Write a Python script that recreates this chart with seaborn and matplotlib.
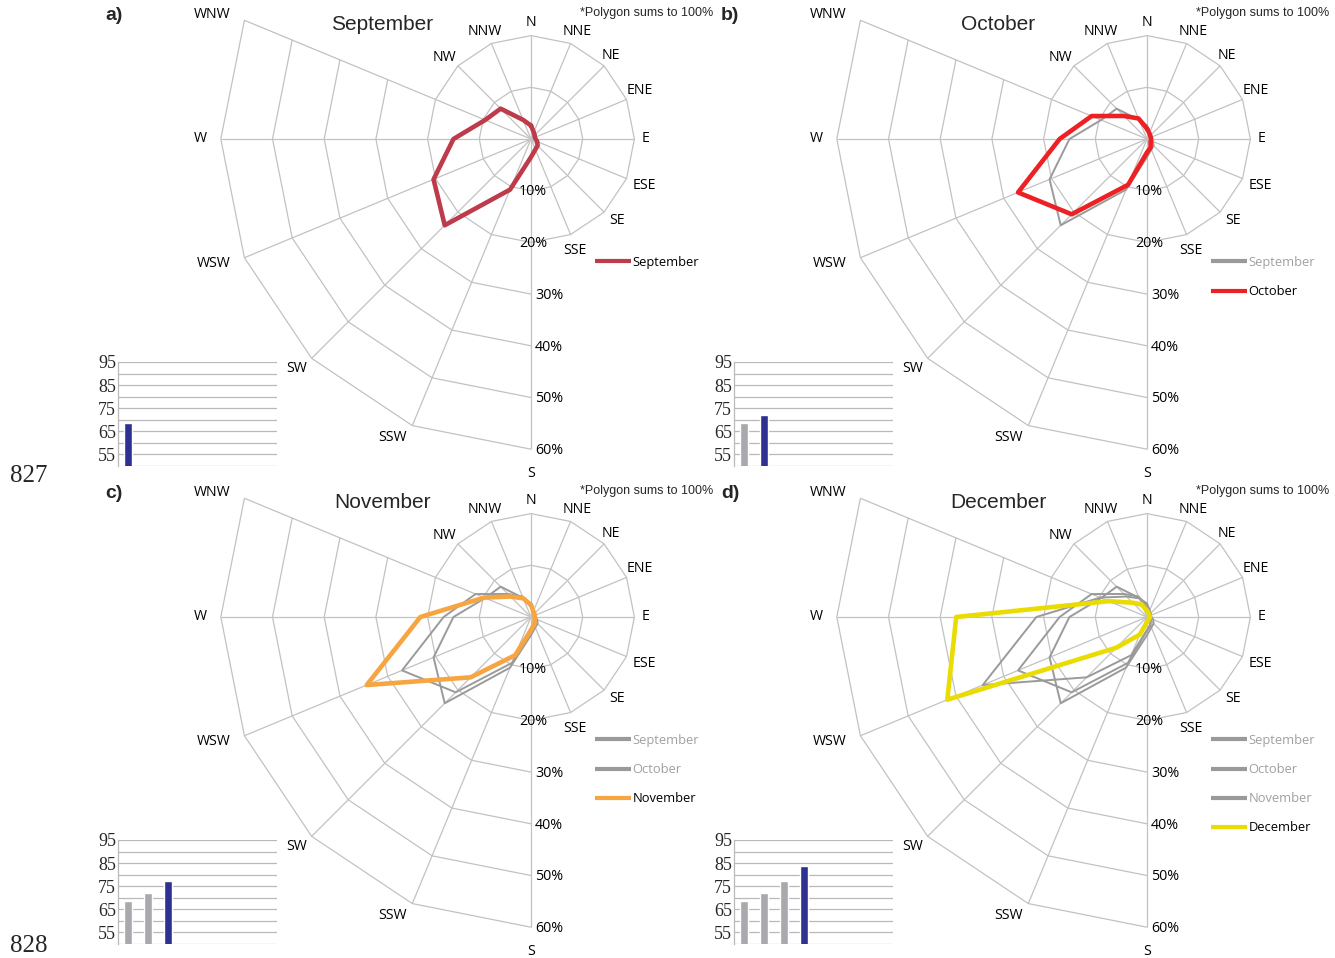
import numpy as np
import pandas as pd
import matplotlib
matplotlib.use("Agg")
import matplotlib.pyplot as plt
from matplotlib.lines import Line2D
import seaborn as sns

# ---------------------------------------------------------------- data
directions = ["N", "NNE", "NE", "ENE", "E", "ESE", "SE", "SSE",
              "S", "SSW", "SW", "WSW", "W", "WNW", "NW", "NNW"]
months = ["September", "October", "November", "December"]

# share of wind per direction (%), clockwise from N
sep_pct = [2.6, 1.4, 1.0, 0.8, 0.9, 1.3, 1.8, 2.2, 3.5, 10.6, 23.6, 20.4, 15.0, 9.6, 8.3, 4.0]
oct_pct = [2.0, 1.2, 0.9, 0.8, 0.8, 0.8, 1.0, 1.8, 2.6, 9.6, 20.6, 27.0, 16.9, 11.6, 6.3, 4.3]
nov_pct = [2.3, 1.2, 0.9, 0.8, 0.7, 0.8, 1.0, 1.6, 2.5, 8.0, 16.5, 34.4, 21.4, 9.8, 5.6, 3.9]
dec_pct = [1.2, 0.8, 0.6, 0.5, 0.6, 0.5, 0.5, 0.7, 1.0, 3.7, 8.4, 41.8, 36.9, 8.0, 3.9, 2.6]
month_pct = [sep_pct, oct_pct, nov_pct, dec_pct]

# inset bar values per month
bar_values = [68.6, 72.0, 77.2, 83.8]

ring_levels = [10, 20, 30, 40, 50, 60]
ring_labels = ["10%", "20%", "30%", "40%", "50%", "60%"]
inset_ticks = [55, 65, 75, 85, 95]
inset_grid = [50, 60, 70, 80, 90]
panel_letters = ["a)", "b)", "c)", "d)"]
line_numbers = ["827", "828"]
note_text = "*Polygon sums to 100%"

# ---------------------------------------------------------------- style
month_colors = ["#be3b4b", "#ed2024", "#f7a541", "#eadb00"]
prior_color = "#9a9a9a"
prior_text = "#a0a0a0"
grid_color = "#c2c2c2"
bar_blue = "#2e3192"
bar_gray = "#a7a9ac"

sns.set_theme(style="white")
plt.rcParams["font.family"] = ["Open Sans", "DejaVu Sans"]

W, H = 1335, 958
K = 5.17                      # pixels per percent
CX, CY = 531, 139             # rose centre of the first panel (pixels)
COL_STEP, ROW_STEP = 616, 478

fig = plt.figure(figsize=(W / 100, H / 100), dpi=100)
fig.patch.set_facecolor("white")


def px_rect(x0, y0, w, h):
    return [x0 / W, 1 - (y0 + h) / H, w / W, h / H]


def fig_xy(x, y):
    return x / W, 1 - y / H


angles = np.deg2rad(np.arange(len(directions)) * 22.5)
long_spokes = set(range(8, 14))       # S .. WNW run out to 60 %
outer_arc = [8, 9, 10, 11, 12, 13]    # rings beyond 20 % only span S .. WNW

# label centre offsets from each spoke end, in pixels (right, down)
label_offsets = [(0, -12.6), (7, -11.5), (6.5, -10.5), (13.5, -8.5), (11.5, -1),
                 (18, 6.5), (13, 8), (4.4, 15.5), (0, 24.5), (-20, 12.4),
                 (-14.7, 9.7), (-30.5, 5.3), (-21, -1), (-32.5, -5.3),
                 (-13.5, -8), (-7, -11.5)]


def to_xy(values, idx=None):
    values = np.asarray(values, dtype=float)
    ang = angles if idx is None else angles[idx]
    return values * np.sin(ang), values * np.cos(ang)


for p in range(4):
    ox = COL_STEP * (p % 2)
    oy = ROW_STEP * (p // 2)

    # ------------------------------------------------ rose axes
    ax = fig.add_axes(px_rect(200 + ox, oy, 500, 478))
    ax.set_xlim((200 - CX) / K, (700 - CX) / K)
    ax.set_ylim((CY - 478) / K, CY / K)
    ax.set_axis_off()

    # spokes
    for i in range(len(directions)):
        r = 60 if i in long_spokes else 20
        sx, sy = to_xy([0, r], [i, i])
        ax.plot(sx, sy, color=grid_color, lw=0.9, zorder=1, solid_capstyle="butt")
    # rings
    for lev in ring_levels:
        if lev <= 20:
            idx = list(range(len(directions))) + [0]
        else:
            idx = outer_arc
        rx, ry = to_xy([lev] * len(idx), idx)
        ax.plot(rx, ry, color=grid_color, lw=0.9, zorder=1)

    # ring labels along the S spoke
    for lev, lab in zip(ring_levels, ring_labels):
        if lev <= 20:
            ax.text(2 / K, -lev - 0.25, lab, ha="center", va="center",
                    fontsize=10.3, color="black", zorder=5)
        else:
            ax.text(4 / K, -lev - 0.25, lab, ha="left", va="center",
                    fontsize=10.3, color="black", zorder=5)

    # direction labels
    for i, name in enumerate(directions):
        r = 60 if i in long_spokes else 20
        ex, ey = to_xy([r], [i])
        dx, dy = label_offsets[i]
        ax.text(ex[0] + dx / K, ey[0] - dy / K, name, ha="center", va="center",
                fontsize=10.2, color="black")

    # polygons: earlier months in grey, current month on top
    for m in range(p + 1):
        px_, py_ = to_xy(month_pct[m])
        df = pd.DataFrame({"x": np.append(px_, px_[0]),
                           "y": np.append(py_, py_[0])})
        current = (m == p)
        sns.lineplot(data=df, x="x", y="y", sort=False, estimator=None, ax=ax,
                     color=month_colors[m] if current else prior_color,
                     linewidth=3.3 if current else 1.4,
                     zorder=4 if current else 3)
    ax.set_xlabel("")
    ax.set_ylabel("")

    # legend
    handles = []
    for m in range(p + 1):
        current = (m == p)
        handles.append(Line2D([], [], color=month_colors[m] if current else prior_color,
                              lw=3.0, solid_capstyle="butt"))
    leg = ax.legend(handles, months[:p + 1], loc="upper left",
                    bbox_to_anchor=fig_xy(595 + ox, 256 + oy),
                    bbox_transform=fig.transFigure, frameon=False,
                    fontsize=9.3, handlelength=2.75, handletextpad=0.15,
                    labelspacing=1.25, borderpad=0, borderaxespad=0)
    for m, txt in enumerate(leg.get_texts()):
        txt.set_color("black" if m == p else prior_text)

    # titles and notes
    fig.text(*fig_xy(382 + ox, 24 + oy), months[p], ha="center", va="center",
             fontsize=15, family="Liberation Sans")
    fig.text(*fig_xy(713 + ox, 13 + oy), note_text, ha="right", va="center",
             fontsize=9, family="Liberation Sans")
    fig.text(*fig_xy(114 + ox, 15 + oy), panel_letters[p], ha="center", va="center",
             fontsize=14, fontweight="bold", family="Liberation Sans")

    # ------------------------------------------------ inset bars
    bx = fig.add_axes(px_rect(118 + ox, 362 + oy, 159, 104))
    bar_df = pd.DataFrame({"month": months[:p + 1], "value": bar_values[:p + 1]})
    palette = {mo: (bar_blue if j == p else bar_gray) for j, mo in enumerate(months[:p + 1])}
    sns.barplot(data=bar_df, x="month", y="value", hue="month", palette=palette,
                order=months[:p + 1], width=0.4, legend=False, ax=bx,
                saturation=1, zorder=3)
    bx.set_xlim(-0.5, 7.5)
    bx.set_ylim(50, 95)
    bx.set_yticks(inset_ticks)
    bx.set_yticks(inset_grid, minor=True)
    bx.set_yticklabels([str(t) for t in inset_ticks], family="Liberation Serif",
                       fontsize=13)
    bx.tick_params(axis="y", which="both", length=0, pad=1.5)
    bx.set_xticks([])
    bx.set_xlabel("")
    bx.set_ylabel("")
    bx.grid(axis="y", which="both", color="#b9b9b9", lw=0.9, zorder=0)
    bx.set_axisbelow(True)
    for side in ["top", "right", "bottom"]:
        bx.spines[side].set_visible(False)
    bx.spines["left"].set_color("#b9b9b9")
    bx.spines["left"].set_linewidth(0.9)
    bx.patch.set_alpha(0)

# manuscript line numbers
for j, num in enumerate(line_numbers):
    fig.text(*fig_xy(10, 476 + 470 * j), num, ha="left", va="center",
             fontsize=18, family="Liberation Serif")

fig.savefig("out.png", dpi=100, facecolor="white")
